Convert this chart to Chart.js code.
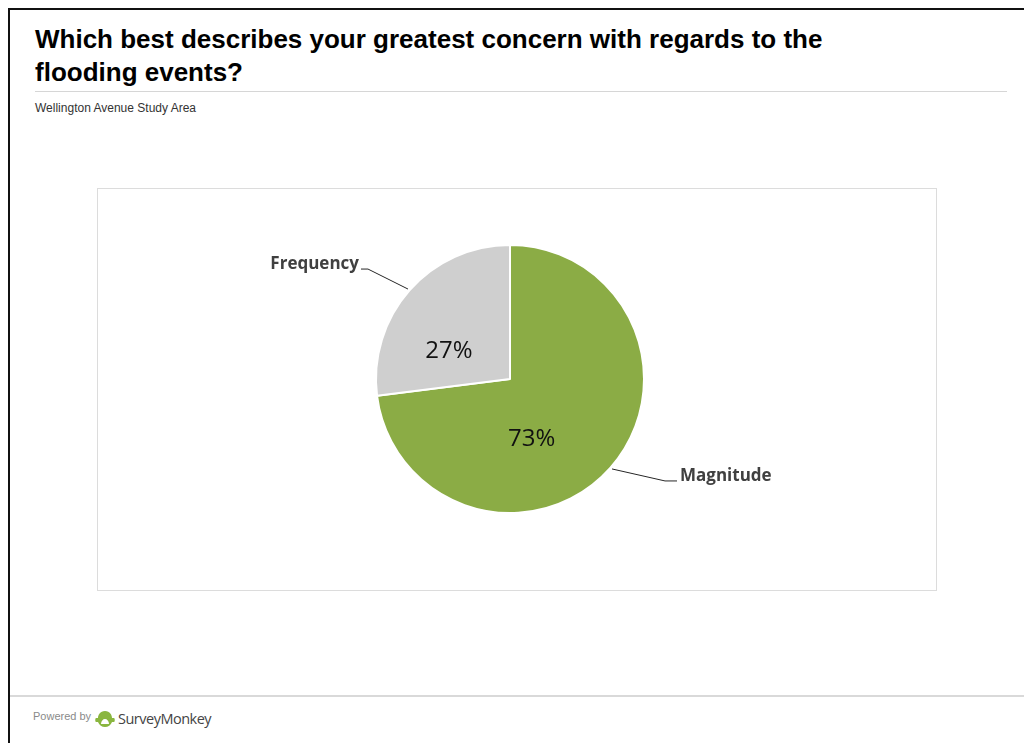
<!DOCTYPE html>
<html>
<head>
<meta charset="utf-8">
<script src="https://cdn.jsdelivr.net/npm/chart.js@4"></script>
<style>
  html, body { margin: 0; padding: 0; background: #fff; }
  body { width: 1024px; height: 743px; position: relative; overflow: hidden; font-family: "Liberation Sans", Arial, sans-serif; }
  .frame { position: absolute; left: 8px; top: 8px; width: 1100px; height: 800px; border-left: 2px solid #111; border-top: 2px solid #111; }
  h1 { position: absolute; left: 35px; top: 23px; margin: 0; font-size: 26px; line-height: 33px; font-weight: bold; color: #000; width: 850px; }
  .rule { position: absolute; left: 35px; top: 91px; width: 972px; height: 1px; background: #d6d6d6; }
  .sub { position: absolute; left: 35px; top: 101px; font-size: 12px; color: #333; }
  .box { position: absolute; left: 97px; top: 188px; width: 838px; height: 401px; border: 1px solid #dcdcdc; }
  .box canvas { display: block; }
  .foot { position: absolute; left: 10px; top: 695px; width: 1014px; height: 2px; background: #d9d9d9; }
  .powered { position: absolute; left: 33px; top: 710px; font-size: 11px; color: #8a8a8a; }
  .logo { position: absolute; left: 95px; top: 709px; display: flex; align-items: center; }
  .logo span { font-family: "Open Sans", sans-serif; font-size: 14.5px; color: #444; margin-left: 3px; letter-spacing: -0.5px; }
</style>
</head>
<body>
<div class="frame"></div>
<h1>Which best describes your greatest concern with regards to the flooding events?</h1>
<div class="rule"></div>
<div class="sub">Wellington Avenue Study Area</div>
<div class="box"><canvas id="pieChart" width="838" height="401"></canvas></div>
<div class="foot"></div>
<div class="powered">Powered by</div>
<div class="logo">
  <svg width="20" height="18" viewBox="0 0 20 18">
    <path d="M10 1 C5 1 3 5 3 8 L1 8 C0 8 0 12 1 12 L3 12 C4 15 7 17 10 17 C13 17 16 15 17 12 L19 12 C20 12 20 8 19 8 L17 8 C17 5 15 1 10 1 Z M10 9 C8 9 6 11 6 14 L14 14 C14 11 12 9 10 9 Z" fill="#8ab63f" fill-rule="evenodd"/>
  </svg>
  <span>SurveyMonkey</span>
</div>

<script>
const categories = ['Magnitude', 'Frequency'];
const percentages = [73, 27];
const sliceColors = ['#8bac45', '#cfcfcf'];

// where the percentage sits: angle shift from the slice middle (deg) and fraction of radius
const pctPlacement = [{ shift: 29, dist: 0.48 }, { shift: -17, dist: 0.5 }];
// leader line elbow, relative to the point on the pie edge
const leaderElbow = [{ dx: 53, dy: 12, run: 12 }, { dx: -40, dy: -20, run: -7 }];

const sliceLabels = {
  id: 'sliceLabels',
  afterDatasetsDraw(chart) {
    const ctx = chart.ctx;
    const meta = chart.getDatasetMeta(0);
    meta.data.forEach((arc, i) => {
      const { x, y, startAngle, endAngle, outerRadius } = arc.getProps(['x', 'y', 'startAngle', 'endAngle', 'outerRadius'], true);
      const mid = (startAngle + endAngle) / 2;

      // percentage inside the slice
      const a = mid + pctPlacement[i].shift * Math.PI / 180;
      const r = outerRadius * pctPlacement[i].dist;
      ctx.save();
      ctx.font = '24px "Open Sans", sans-serif';
      ctx.fillStyle = '#111';
      ctx.textAlign = 'center';
      ctx.textBaseline = 'middle';
      ctx.fillText(percentages[i] + '%', x + Math.cos(a) * r, y + Math.sin(a) * r);

      // category name with leader line
      const ex = x + Math.cos(mid) * (outerRadius + 2);
      const ey = y + Math.sin(mid) * (outerRadius + 2);
      const el = leaderElbow[i];
      const bx = ex + el.dx, by = ey + el.dy;
      ctx.strokeStyle = '#262626';
      ctx.lineWidth = 1;
      ctx.beginPath();
      ctx.moveTo(ex, ey);
      ctx.lineTo(bx, by);
      ctx.lineTo(bx + el.run, by);
      ctx.stroke();

      ctx.font = 'bold 17px "Open Sans", sans-serif';
      ctx.fillStyle = '#404040';
      ctx.textBaseline = 'middle';
      ctx.textAlign = el.run > 0 ? 'left' : 'right';
      ctx.fillText(categories[i], bx + el.run + (el.run > 0 ? 3 : -2), by - 5);
      ctx.restore();
    });
  }
};

new Chart(document.getElementById('pieChart'), {
  type: 'pie',
  data: {
    labels: categories,
    datasets: [{
      data: percentages,
      backgroundColor: sliceColors,
      borderColor: '#ffffff',
      borderWidth: 2
    }]
  },
  options: {
    responsive: false,
    animation: false,
    layout: { padding: { top: 55, bottom: 76, left: 212, right: 226 } },
    plugins: {
      legend: { display: false },
      tooltip: { enabled: false }
    }
  },
  plugins: [sliceLabels]
});
</script>
</body>
</html>
